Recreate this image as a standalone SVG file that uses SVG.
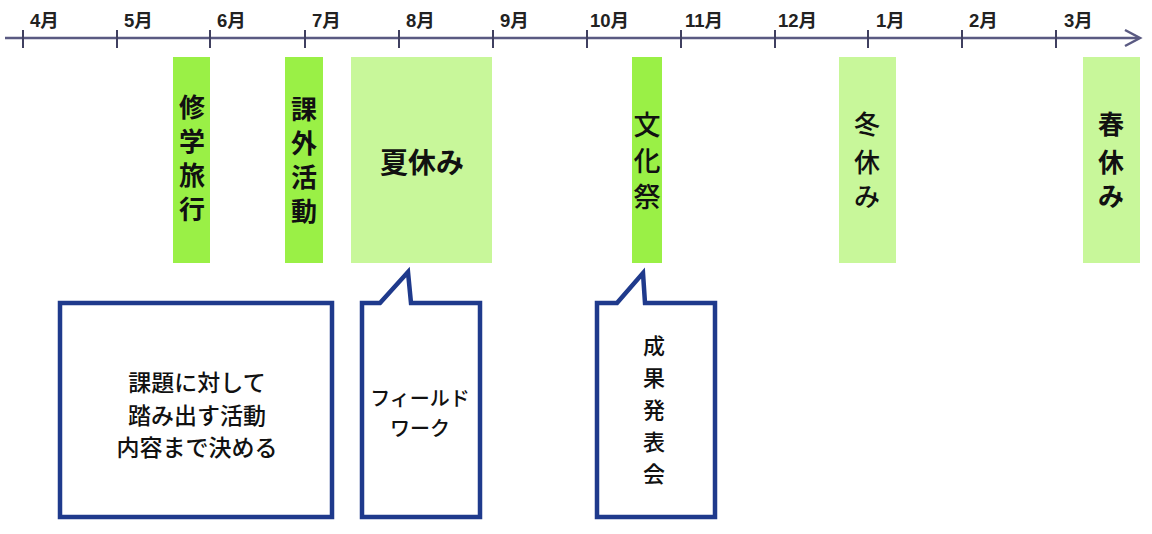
<svg xmlns="http://www.w3.org/2000/svg" width="1152" height="534" viewBox="0 0 1152 534">
<style>
.mon{font-family:"Liberation Sans","Noto Sans CJK JP",sans-serif;font-size:18.5px;font-weight:700;fill:#222}
.bar1{fill:#9AF046}
.bar2{fill:#C8F79A}
.bt{font-family:"Noto Sans CJK JP",sans-serif;font-size:26px;font-weight:500;fill:#111;text-anchor:middle}
.b{font-weight:700}
.ct{font-family:"Noto Sans CJK JP",sans-serif;font-size:23px;font-weight:500;fill:#111;text-anchor:middle}
.box{fill:#fff;stroke:#1F3A8C;stroke-width:4.5;stroke-linejoin:miter}
.tick{stroke:#404060;stroke-width:2}
</style>
<rect width="1152" height="534" fill="#fff"/>
<g id="timeline">
<line x1="5" y1="38" x2="1139" y2="38" stroke="#5A5A82" stroke-width="2.5"/>
<polyline points="1125,30 1140,38 1125,46" fill="none" stroke="#5A5A82" stroke-width="2.5"/>
<g class="tick">
<line x1="23" y1="30" x2="23" y2="48"/>
<line x1="117" y1="30" x2="117" y2="48"/>
<line x1="210" y1="30" x2="210" y2="48"/>
<line x1="305" y1="30" x2="305" y2="48"/>
<line x1="399" y1="30" x2="399" y2="48"/>
<line x1="493" y1="30" x2="493" y2="48"/>
<line x1="587" y1="30" x2="587" y2="48"/>
<line x1="681" y1="30" x2="681" y2="48"/>
<line x1="775" y1="30" x2="775" y2="48"/>
<line x1="868" y1="30" x2="868" y2="48"/>
<line x1="962" y1="30" x2="962" y2="48"/>
<line x1="1056" y1="30" x2="1056" y2="48"/>
</g>
<text class="mon" x="30" y="27">4月</text>
<text class="mon" x="124" y="27">5月</text>
<text class="mon" x="217" y="27">6月</text>
<text class="mon" x="312" y="27">7月</text>
<text class="mon" x="406" y="27">8月</text>
<text class="mon" x="500" y="27">9月</text>
<text class="mon" x="590" y="27">10月</text>
<text class="mon" x="685" y="27">11月</text>
<text class="mon" x="778" y="27">12月</text>
<text class="mon" x="876" y="27">1月</text>
<text class="mon" x="969" y="27">2月</text>
<text class="mon" x="1064" y="27">3月</text>
</g>
<g id="shugakuryoko">
<rect class="bar1" x="173" y="57" width="37" height="206"/>
<text class="bt b" x="192"><tspan x="192" y="117">修</tspan><tspan x="192" y="151">学</tspan><tspan x="192" y="185">旅</tspan><tspan x="192" y="219">行</tspan></text>
</g>
<g id="kagaikatsudo">
<rect class="bar1" x="285" y="57" width="38" height="206"/>
<text class="bt b" x="304"><tspan x="304" y="119">課</tspan><tspan x="304" y="153">外</tspan><tspan x="304" y="187">活</tspan><tspan x="304" y="221">動</tspan></text>
</g>
<g id="natsuyasumi">
<rect class="bar2" x="351" y="57" width="141" height="206"/>
<text class="bt b" x="422" y="173" style="font-size:28px">夏休み</text>
</g>
<g id="bunkasai">
<rect class="bar1" x="632" y="57" width="30" height="206"/>
<text class="bt" x="647" style="font-size:27px"><tspan x="647" y="135">文</tspan><tspan x="647" y="171">化</tspan><tspan x="647" y="207">祭</tspan></text>
</g>
<g id="fuyuyasumi">
<rect class="bar2" x="839" y="57" width="57" height="206"/>
<text class="bt" x="867"><tspan x="867" y="134">冬</tspan><tspan x="867" y="172">休</tspan><tspan x="867" y="206">み</tspan></text>
</g>
<g id="haruyasumi">
<rect class="bar2" x="1083" y="57" width="57" height="206"/>
<text class="bt" x="1111" style="font-weight:600"><tspan x="1111" y="134">春</tspan><tspan x="1111" y="172">休</tspan><tspan x="1111" y="206">み</tspan></text>
</g>
<g id="box-kadai">
<rect x="62" y="305" width="272" height="214" fill="#1F3A8C"/>
<rect class="box" x="60" y="303" width="272" height="214"/>
<text class="ct"><tspan x="197" y="391">課題に対して</tspan><tspan x="197" y="424">踏み出す活動</tspan><tspan x="197" y="456">内容まで決める</tspan></text>
</g>
<g id="callout-fieldwork">
<path class="box" d="M362,303 L380,303 L408,272 L411,303 L480,303 L480,517 L362,517 Z"/>
<text class="ct" style="font-size:20px"><tspan x="420" y="406">フィールド</tspan><tspan x="420" y="436">ワーク</tspan></text>
</g>
<g id="callout-seika">
<path class="box" d="M597,303 L617,303 L643,273 L645,303 L715,303 L715,517 L597,517 Z"/>
<text class="ct" style="font-size:22px"><tspan x="654" y="354">成</tspan><tspan x="654" y="386">果</tspan><tspan x="654" y="418">発</tspan><tspan x="654" y="450">表</tspan><tspan x="654" y="482">会</tspan></text>
</g>
<g id="connectors"></g>
</svg>
